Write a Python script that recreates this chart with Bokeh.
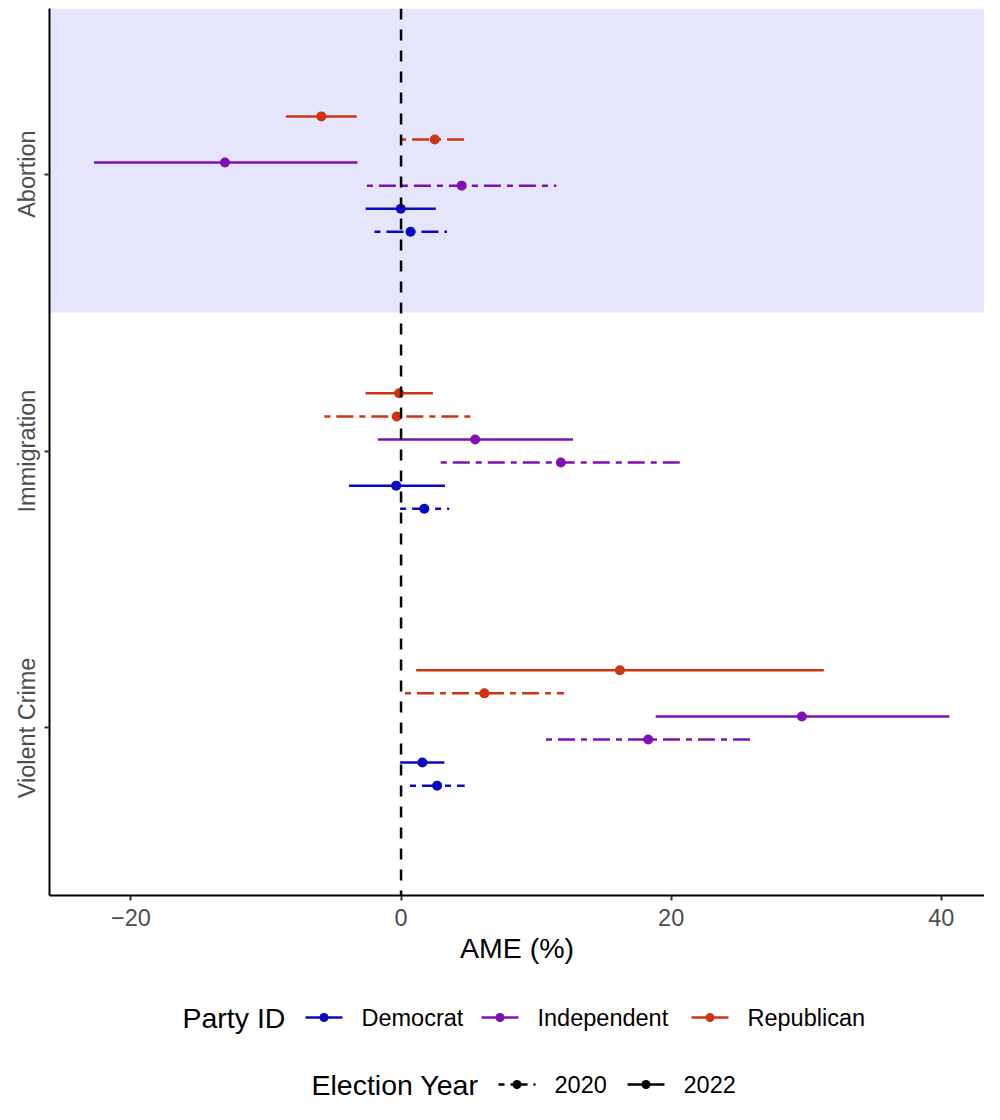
import numpy as np
from bokeh.plotting import figure
from bokeh.models import Range1d, FixedTicker, Span, ColumnDataSource
from bokeh.layouts import column
from bokeh.embed import file_html
from bokeh.resources import INLINE
from bokeh.core.properties import value

# ---------------- data ----------------
issues = ["Abortion", "Immigration", "Violent Crime"]
party_order = ["Republican", "Independent", "Democrat"]   # top -> bottom within an issue
year_order = ["2022", "2020"]                              # top -> bottom within a party
legend_parties = ["Democrat", "Independent", "Republican"]
legend_years = ["2020", "2022"]

row_issue = ["Abortion"] * 6 + ["Immigration"] * 6 + ["Violent Crime"] * 6
row_party = ["Republican", "Republican", "Independent", "Independent", "Democrat", "Democrat"] * 3
row_year = ["2022", "2020"] * 9

estimate = [-5.9, 2.5, -13.04, 4.49, -0.02, 0.7,
            -0.15, -0.32, 5.49, 11.83, -0.36, 1.72,
            16.2, 6.17, 29.68, 18.3, 1.58, 2.67]
lower = [-8.53, -0.07, -22.73, -2.53, -2.62, -1.97,
         -2.62, -5.68, -1.72, 2.94, -3.86, -0.07,
         1.12, 0.29, 18.85, 10.73, -0.07, 0.66]
upper = [-3.28, 5.08, -3.23, 11.5, 2.57, 3.4,
         2.36, 5.2, 12.73, 20.74, 3.25, 3.57,
         31.3, 12.07, 40.6, 25.9, 3.21, 4.71]

x_ticks = [-20, 0, 20, 40]

# ---------------- styles ----------------
FONT = "Liberation Sans"
party_colors = {"Democrat": "#0A0ABF", "Independent": "#8010B4", "Republican": "#CC3414"}
year_dash = {"2020": "6 6 17 6", "2022": "solid"}
TICK_COLOR = "#4D4D4D"

W = 984
MAIN_H = 975
LEG_H = 129
FRAME_L = 49

# dodge positions (width 0.5, 6 groups)
n_groups = len(party_order) * len(year_order)
dodge_w = 0.5
ys = []
for iss, pa, yr in zip(row_issue, row_party, row_year):
    g = party_order.index(pa) * len(year_order) + year_order.index(yr)
    off = -dodge_w / 2 + dodge_w / n_groups * (g + 0.5)
    ys.append(issues.index(iss) + 1 + off)

y_top, y_bottom = 0.402, 3.605
x_lo, x_hi = -26.03, 43.2

p = figure(width=W, height=MAIN_H, output_backend="svg", toolbar_location=None,
           x_range=Range1d(x_lo, x_hi), y_range=Range1d(y_bottom, y_top),
           min_border_left=FRAME_L, min_border_right=0, min_border_top=8, min_border_bottom=80)
p.outline_line_color = None
p.xgrid.visible = False
p.ygrid.visible = False
p.background_fill_color = "white"
p.border_fill_color = "white"

# shaded Abortion band
p.quad(left=[x_lo], right=[x_hi], top=[y_top], bottom=[1.5],
       fill_color="#E5E5FB", line_color=None)

# zero line
p.add_layout(Span(location=0, dimension="height", line_color="black",
                  line_width=2.5, line_dash="11 10"))

for pa in party_order:
    for yr in year_order:
        idx = [i for i in range(len(row_party)) if row_party[i] == pa and row_year[i] == yr]
        src = ColumnDataSource(dict(y=[ys[i] for i in idx], est=[estimate[i] for i in idx],
                                    lo=[lower[i] for i in idx], hi=[upper[i] for i in idx]))
        p.segment(x0="lo", x1="hi", y0="y", y1="y", source=src,
                  line_color=party_colors[pa], line_width=2.5, line_dash=year_dash[yr])
        p.scatter(x="est", y="y", source=src, size=10,
                  fill_color=party_colors[pa], line_color=party_colors[pa], line_width=0)

# axes
xa = p.xaxis[0]
xa.ticker = FixedTicker(ticks=x_ticks)
xa.major_label_overrides = {t: (f"\u2212{abs(t)}" if t < 0 else str(t)) for t in x_ticks}
xa.axis_label = "AME (%)"
xa.axis_label_text_font = FONT
xa.axis_label_text_font_size = "28.5px"
xa.axis_label_text_font_style = "normal"
xa.axis_label_text_color = "black"
xa.axis_label_standoff = 3
xa.major_label_text_font = FONT
xa.major_label_text_font_size = "23.5px"
xa.major_label_text_color = TICK_COLOR
xa.major_label_standoff = 8
xa.axis_line_color = "black"
xa.axis_line_width = 2
xa.major_tick_line_color = "#333333"
xa.major_tick_line_width = 2
xa.major_tick_out = 5
xa.major_tick_in = 0
xa.minor_tick_line_color = None

ya = p.yaxis[0]
ya.ticker = FixedTicker(ticks=[1, 2, 3])
ya.major_label_overrides = {i + 1: s for i, s in enumerate(issues)}
ya.major_label_orientation = "vertical"
ya.major_label_text_font = FONT
ya.major_label_text_font_size = "23.5px"
ya.major_label_text_color = TICK_COLOR
ya.major_label_standoff = 4
ya.axis_line_color = "black"
ya.axis_line_width = 2
ya.major_tick_line_color = "#333333"
ya.major_tick_line_width = 2
ya.major_tick_out = 5
ya.major_tick_in = 0
ya.minor_tick_line_color = None

# ---------------- legend figure (x in page pixels) ----------------
lg = figure(width=W, height=LEG_H, output_backend="svg", toolbar_location=None,
            x_range=Range1d(FRAME_L, W), y_range=Range1d(LEG_H, 0),
            min_border_left=FRAME_L, min_border_right=0, min_border_top=0, min_border_bottom=0)
lg.outline_line_color = None
lg.axis.visible = False
lg.grid.visible = False

row1_y = 42
row2_y = 109
KEY_LEN = 37

lg.text(x=[182], y=[row1_y], text=["Party ID"], text_font=value(FONT),
        text_font_size="28.5px", text_baseline="middle", text_align="left", text_color="black")
key_x0 = [305, 481, 691]
for pa, kx in zip(legend_parties, key_x0):
    c = party_colors[pa]
    lg.segment(x0=[kx], x1=[kx + KEY_LEN], y0=[row1_y], y1=[row1_y], line_color=c, line_width=2.5)
    lg.scatter(x=[kx + KEY_LEN / 2], y=[row1_y], size=9, fill_color=c, line_color=c, line_width=0)
    lg.text(x=[kx + KEY_LEN + 19], y=[row1_y], text=[pa], text_font=value(FONT),
            text_font_size="23.5px", text_baseline="middle", text_align="left", text_color="black")

lg.text(x=[311], y=[row2_y], text=["Election Year"], text_font=value(FONT),
        text_font_size="28.5px", text_baseline="middle", text_align="left", text_color="black")
key2_x0 = [498, 627]
for yr, kx in zip(legend_years, key2_x0):
    lg.segment(x0=[kx], x1=[kx + KEY_LEN], y0=[row2_y], y1=[row2_y], line_color="black",
               line_width=2.5, line_dash=year_dash[yr])
    lg.scatter(x=[kx + KEY_LEN / 2], y=[row2_y], size=9, fill_color="black", line_color="black", line_width=0)
    lg.text(x=[kx + KEY_LEN + 19], y=[row2_y], text=[yr], text_font=value(FONT),
            text_font_size="23.5px", text_baseline="middle", text_align="left", text_color="black")

layout = column(p, lg, spacing=0)
open("out.html", "w").write(file_html(layout, INLINE))
